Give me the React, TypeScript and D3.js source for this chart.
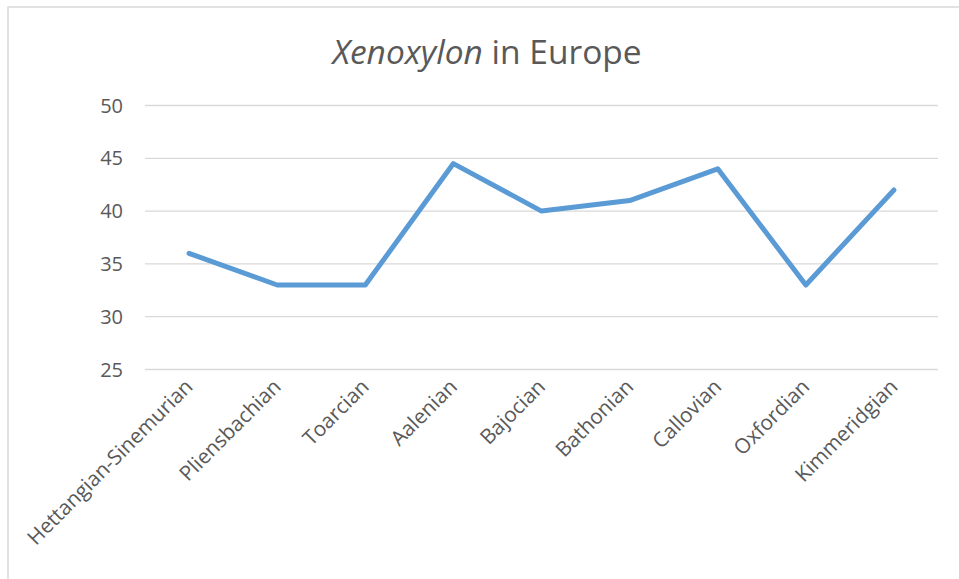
import React from "react";
import * as d3 from "d3";

const categories = ["Hettangian-Sinemurian", "Pliensbachian", "Toarcian", "Aalenian", "Bajocian", "Bathonian", "Callovian", "Oxfordian", "Kimmeridgian"];
const values = [36, 33, 33, 44.5, 40, 41, 44, 33, 42];
const yTicks = [25, 30, 35, 40, 45, 50];

export default function App() {
  const W = 959, H = 579;
  const left = 145, right = 938, top = 105.5, bottom = 369.5;
  const x = d3.scalePoint<string>().domain(categories).range([left, right]).padding(0.5);
  const y = d3.scaleLinear().domain([25, 50]).range([bottom, top]);
  const line = d3.line<number>().x((_, i) => x(categories[i])!).y(d => y(d));
  const font = "'Open Sans', 'Noto Sans', sans-serif";
  return (
    <svg width={W} height={H} style={{ position: "absolute", left: 0, top: 0, background: "#fff" }}>
      <rect x={8} y={7} width={W + 10} height={H + 10} fill="#fff" stroke="#d9d9d9" strokeWidth={1.5} />
      <text x={487} y={64} textAnchor="middle" fontFamily={font} fontSize={33.5} fill="#595959">
        <tspan fontStyle="italic">Xenoxylon</tspan> in Europe
      </text>
      {yTicks.map(t => (
        <g key={t}>
          <line x1={left} x2={right} y1={y(t)} y2={y(t)} stroke="#d9d9d9" strokeWidth={1.3} />
          <text x={123} y={y(t)} dy="0.35em" textAnchor="end" fontFamily={font} fontSize={20} fill="#595959">{t}</text>
        </g>
      ))}
      <path d={line(values)!} fill="none" stroke="#5b9bd5" strokeWidth={5} strokeLinejoin="round" strokeLinecap="round" />
      {categories.map(c => (
        <text key={c} transform={`translate(${x(c)! + 5},${388}) rotate(-45)`} textAnchor="end" fontFamily={font} fontSize={20.7} fill="#595959">{c}</text>
      ))}
    </svg>
  );
}
